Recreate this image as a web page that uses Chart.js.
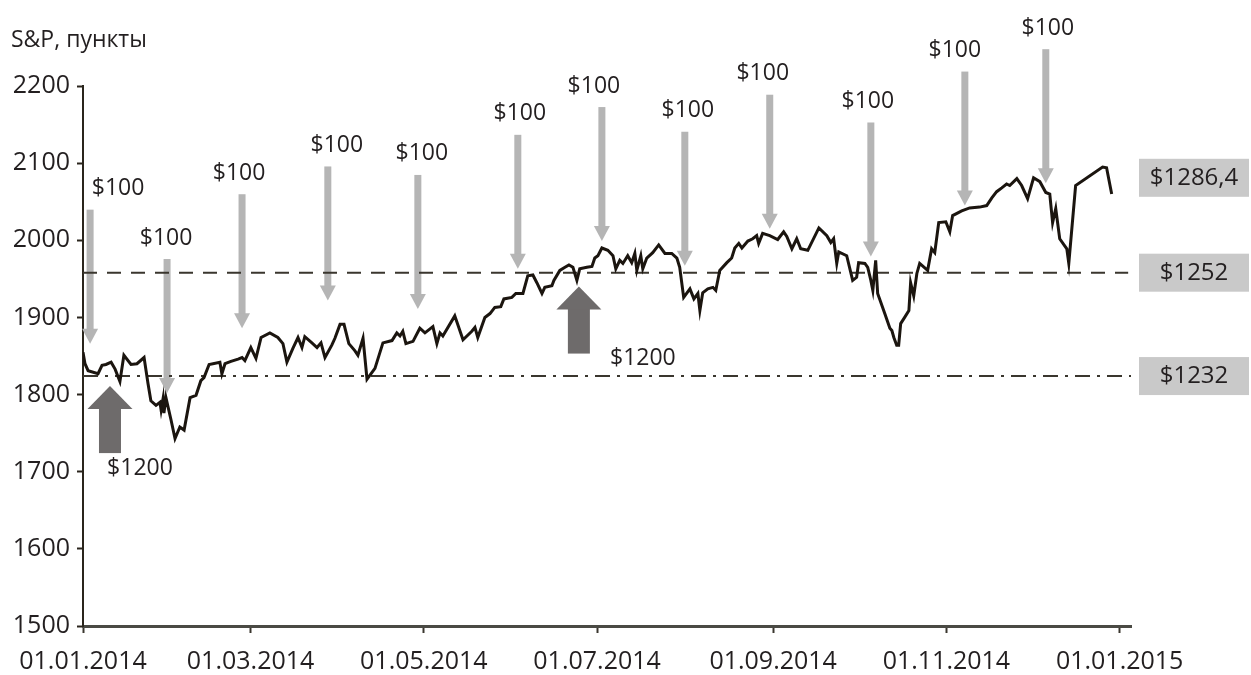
<!DOCTYPE html>
<html>
<head>
<meta charset="utf-8">
<script src="https://cdn.jsdelivr.net/npm/chart.js@4.4.1/dist/chart.umd.min.js"></script>
<style>
html, body { margin: 0; padding: 0; background: #fff; }
</style>
</head>
<body>
<canvas id="spChart" width="1251" height="675"></canvas>
<script>
// S&P 500 in 2014, x = days since 01.01.2014
const tradeDays = [
  0, 0.7, 1.8, 5.3, 6.7, 8.1, 9.9, 11.3, 13.0, 14.4,
  16.9, 19.0, 21.5, 22.9, 23.9, 25.7, 27.1, 27.5, 28.2, 28.5,
  29.2, 31.0, 32.4, 34.1, 35.6, 37.7, 39.8, 41.5, 42.6, 44.4,
  48.2, 48.9, 50.0, 52.1, 54.6, 56.0, 57.0, 59.1, 60.9, 62.7,
  65.8, 68.6, 70.4, 71.8, 73.9, 75.7, 77.1, 78.1, 80.6, 82.4,
  83.8, 85.2, 87.6, 88.7, 90.5, 91.9, 93.6, 95.7, 96.8, 98.6,
  100.0, 102.8, 105.6, 108.8, 110.5, 111.6, 112.6, 113.7, 116.2, 118.6,
  120.4, 123.2, 124.6, 125.7, 126.7, 130.9, 133.8, 136.9, 138.0, 139.0,
  141.5, 143.3, 145.0, 147.1, 148.2, 151.0, 152.4, 154.9, 156.6, 158.4,
  159.8, 161.6, 162.6, 165.1, 165.8, 167.9, 169.7, 171.1, 172.5, 173.9,
  174.9, 177.4, 179.2, 180.2, 181.3, 182.7, 184.8, 186.6, 187.6, 189.0,
  190.1, 191.8, 193.2, 194.3, 195.0, 196.4, 197.1, 198.5, 200.6, 202.7,
  204.9, 207.3, 209.1, 210.1, 211.5, 213.7, 215.1, 216.5, 217.2, 218.2,
  220.0, 221.8, 222.8, 224.2, 226.7, 228.4, 229.5, 230.9, 232.0, 234.1,
  235.8, 237.2, 237.9, 239.3, 241.8, 244.6, 246.7, 247.8, 249.6, 251.3,
  252.7, 255.2, 259.1, 261.9, 263.3, 264.3, 265.4, 266.1, 268.9, 271.0,
  272.4, 273.1, 275.3, 276.3, 277.4, 278.1, 279.1, 279.8, 282.3, 284.1,
  284.8, 285.5, 286.5, 287.2, 287.9, 289.3, 290.8, 291.4, 292.5, 293.6,
  294.6, 297.4, 298.8, 299.9, 301.3, 303.8, 305.2, 306.2, 309.4, 312.2,
  315.7, 318.2, 320.0, 321.7, 323.5, 325.2, 326.3, 328.8, 330.5, 332.6,
  334.7, 336.9, 339.0, 340.4, 341.4, 342.5, 343.9, 346.4, 347.1, 349.5,
  359.0, 360.4, 362.2
];
const spValues = [
  1855, 1840, 1831, 1827, 1838, 1839, 1842, 1833, 1817, 1851,
  1839, 1840, 1848, 1814, 1792, 1786, 1790, 1780, 1795, 1776,
  1796, 1767, 1743, 1758, 1754, 1796, 1799, 1818, 1822, 1839,
  1842, 1827, 1840, 1843, 1846, 1848, 1844, 1861, 1847, 1874,
  1880, 1874, 1866, 1842, 1860, 1874, 1861, 1875, 1867, 1861,
  1867, 1848, 1864, 1873, 1891, 1891, 1866, 1857, 1851, 1873,
  1820, 1834, 1867, 1870, 1880, 1876, 1882, 1866, 1869, 1886,
  1880, 1888, 1866, 1880, 1876, 1902, 1871, 1882, 1887, 1874,
  1900, 1905, 1913, 1914, 1924, 1926, 1931, 1931, 1954, 1955,
  1945, 1931, 1939, 1941, 1948, 1961, 1965, 1968, 1965, 1948,
  1963, 1965, 1966, 1977, 1980, 1990, 1987, 1980, 1963, 1974,
  1970, 1980, 1971, 1983, 1961, 1980, 1963, 1977, 1984, 1994,
  1983, 1983, 1977, 1965, 1926, 1937, 1924, 1931, 1909, 1932,
  1937, 1939, 1935, 1961, 1971, 1977, 1990, 1996, 1990, 1999,
  2002, 2006, 1996, 2009, 2006, 2001, 2011, 2005, 1989, 2002,
  1989, 1987, 2016, 2006, 1997, 2002, 1970, 1985, 1980, 1948,
  1952, 1971, 1970, 1965, 1948, 1935, 1974, 1931, 1905, 1886,
  1883, 1874, 1864, 1864, 1892, 1900, 1909, 1945, 1928, 1957,
  1970, 1961, 1989, 1984, 2023, 2024, 2011, 2032, 2038, 2042,
  2043, 2045, 2055, 2063, 2068, 2073, 2071, 2080, 2071, 2054,
  2081, 2076, 2062, 2060, 2023, 2041, 2002, 1989, 1970, 2071,
  2095, 2094, 2060
];

const tickDays = [0, 59, 120, 181, 243, 304, 365];
const tickLabels = ['01.01.2014', '01.03.2014', '01.05.2014', '01.07.2014', '01.09.2014', '01.11.2014', '01.01.2015'];

// monthly $100 purchases: day and where the arrow tip points
const buyDays = [2.5, 29.6, 56.0, 86.2, 117.9, 153.1, 182.7, 211.9, 241.8, 277.4, 310.5, 339.0];
const buyTips = [1866, 1802, 1886, 1922, 1911, 1963, 1999, 1967, 2015, 1979, 2045, 2074];
const buyLabel = '$100';

// lump-sum $1200 purchases
const lumpDays = [9.5, 174.6];
const lumpTips = [1811, 1940];
const lumpLabel = '$1200';

// average price levels and right-hand value boxes
const levelValues = [1958, 1824];
const boxValues = [2081, 1958, 1824];
const boxLabels = ['$1286,4', '$1252', '$1232'];

const TEXT = '#231f20';
const FONT = '"Open Sans", "DejaVu Sans", sans-serif';

const annotations = {
    id: 'annotations',
    beforeDatasetsDraw(chart) {
        const ctx = chart.ctx;
        const xs = chart.scales.x, ys = chart.scales.y;
        ctx.save();
        // light gray down arrows
        ctx.fillStyle = '#b5b5b5';
        buyDays.forEach((d, i) => {
            const x = xs.getPixelForValue(d);
            const tip = ys.getPixelForValue(buyTips[i]);
            ctx.fillRect(x - 3.5, tip - 134, 7, 120);
            ctx.beginPath();
            ctx.moveTo(x - 8, tip - 15);
            ctx.lineTo(x + 8, tip - 15);
            ctx.lineTo(x, tip);
            ctx.closePath();
            ctx.fill();
        });
        // dark up arrows
        ctx.fillStyle = '#6e6b6b';
        lumpDays.forEach((d, i) => {
            const x = xs.getPixelForValue(d);
            const tip = ys.getPixelForValue(lumpTips[i]);
            ctx.fillRect(x - 11, tip + 22, 22, 45);
            ctx.beginPath();
            ctx.moveTo(x - 22.5, tip + 23);
            ctx.lineTo(x + 22.5, tip + 23);
            ctx.lineTo(x, tip);
            ctx.closePath();
            ctx.fill();
        });
        ctx.restore();
    },
    afterDraw(chart) {
        const ctx = chart.ctx;
        const xs = chart.scales.x, ys = chart.scales.y;
        ctx.save();
        ctx.fillStyle = TEXT;
        ctx.textBaseline = 'middle';
        ctx.textAlign = 'left';
        ctx.font = '23px ' + FONT;
        ctx.fillText('S&P, пункты', 11, 40);

        ctx.textAlign = 'center';
        const buyDx = [28, -1, -3, 9, 4, 2, -8, 3, -7, -3, -10, 2];
        buyDays.forEach((d, i) => {
            const x = xs.getPixelForValue(d);
            const tip = ys.getPixelForValue(buyTips[i]);
            ctx.fillText(buyLabel, x + buyDx[i], tip - 155);
        });
        const lumpOff = [[30, 82], [64, 72]];
        lumpDays.forEach((d, i) => {
            const x = xs.getPixelForValue(d);
            const tip = ys.getPixelForValue(lumpTips[i]);
            ctx.fillText(lumpLabel, x + lumpOff[i][0], tip + lumpOff[i][1]);
        });

        ctx.font = '24px ' + FONT;
        boxValues.forEach((v, i) => {
            const y = ys.getPixelForValue(v);
            ctx.fillStyle = '#c9c9c9';
            ctx.fillRect(1139, y - 19, 110, 38);
            ctx.fillStyle = TEXT;
            ctx.fillText(boxLabels[i], 1194, y);
        });
        ctx.restore();
    }
};

new Chart(document.getElementById('spChart'), {
    type: 'line',
    data: {
        datasets: [
            {
                data: tradeDays.map((d, i) => ({ x: d, y: spValues[i] })),
                borderColor: '#1b150f',
                borderWidth: 3,
                pointRadius: 0,
                tension: 0,
                order: 0
            },
            {
                data: [{ x: 0, y: levelValues[0] }, { x: 368, y: levelValues[0] }],
                borderColor: '#3a362e',
                borderWidth: 2,
                borderDash: [14, 10],
                pointRadius: 0,
                order: 1
            },
            {
                data: [{ x: 0, y: levelValues[1] }, { x: 369, y: levelValues[1] }],
                borderColor: '#3a362e',
                borderWidth: 2,
                borderDash: [15, 7, 3, 7],
                pointRadius: 0,
                order: 1
            }
        ]
    },
    options: {
        responsive: false,
        animation: false,
        layout: { padding: { top: 86, right: 120, left: 0, bottom: 0 } },
        plugins: {
            legend: { display: false },
            tooltip: { enabled: false }
        },
        scales: {
            x: {
                type: 'linear',
                min: 0,
                max: 369,
                afterBuildTicks: (scale) => {
                    scale.ticks = tickDays.map(v => ({ value: v }));
                },
                afterFit: (scale) => { scale.height = 49; },
                ticks: {
                    autoSkip: false,
                    maxRotation: 0,
                    padding: 14,
                    color: TEXT,
                    font: { family: FONT, size: 25 },
                    callback: (v) => tickLabels[tickDays.indexOf(v)]
                },
                grid: { drawOnChartArea: false, drawTicks: true, tickLength: 7, tickColor: '#3a362e', tickWidth: 2 },
                border: { display: true, color: '#4a4a44', width: 3 }
            },
            y: {
                min: 1500,
                max: 2200,
                afterFit: (scale) => { scale.width = 83; },
                ticks: {
                    stepSize: 100,
                    padding: 7,
                    color: TEXT,
                    font: { family: FONT, size: 25 },
                    callback: (v) => String(v)
                },
                grid: { drawOnChartArea: false, drawTicks: true, tickLength: 6, tickColor: '#2a251c', tickWidth: 2 },
                border: { display: true, color: '#2a251c', width: 2 }
            }
        }
    },
    plugins: [annotations]
});
</script>
</body>
</html>
